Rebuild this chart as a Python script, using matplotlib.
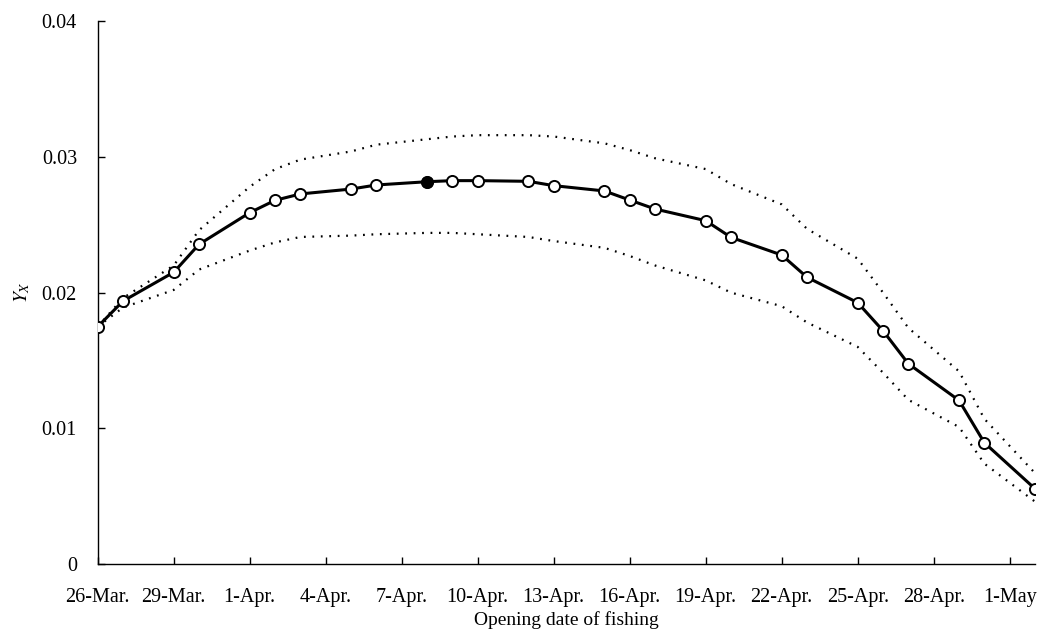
import numpy as np
import matplotlib
matplotlib.use("Agg")
import matplotlib.pyplot as plt

plt.rcParams['font.family'] = ['Liberation Serif', 'DejaVu Serif']
plt.rcParams['mathtext.fontset'] = 'stix'

# days after 26-Mar on which Y_X was computed
dias = [0, 1, 3, 4, 6, 7, 8, 10, 11, 13, 14, 15, 17, 18, 20, 21, 22,
        24, 25, 27, 28, 30, 31, 32, 34, 35, 37]
# estimated Y_X
yx = [0.01749, 0.01938, 0.0215, 0.02356, 0.02589, 0.0268, 0.02727, 0.02763,
      0.02793, 0.02817, 0.02825, 0.02825, 0.0282, 0.02788, 0.02749, 0.02682,
      0.02616, 0.0253, 0.02407, 0.02277, 0.02113, 0.01926, 0.01719, 0.01476,
      0.01206, 0.00894, 0.00555]
# upper / lower limits (dotted)
superior = [0.0175, 0.0196, 0.0220, 0.0246, 0.0278, 0.0291, 0.0298, 0.0304,
            0.0309, 0.0313, 0.0315, 0.0316, 0.0316, 0.0315, 0.0310, 0.0305,
            0.0299, 0.0291, 0.0280, 0.0265, 0.0247, 0.0225, 0.0200, 0.0174,
            0.0142, 0.0107, 0.0067]
inferior = [0.0175, 0.0189, 0.0202, 0.0217, 0.0231, 0.0237, 0.0241, 0.0242,
            0.0243, 0.0244, 0.0244, 0.0243, 0.0241, 0.0238, 0.0233, 0.0227,
            0.0220, 0.0209, 0.0200, 0.0190, 0.0178, 0.0160, 0.0141, 0.0121,
            0.0101, 0.0074, 0.0046]
dia_max = 13  # filled marker (maximum)

ticks_x = [0, 3, 6, 9, 12, 15, 18, 21, 24, 27, 30, 33, 36]
etiquetas_x = ["26-Mar.", "29-Mar.", "1-Apr.", "4-Apr.", "7-Apr.", "10-Apr.",
               "13-Apr.", "16-Apr.", "19-Apr.", "22-Apr.", "25-Apr.",
               "28-Apr.", "1-May"]
ticks_y = [0, 0.01, 0.02, 0.03, 0.04]
etiquetas_y = ["0", "0.01", "0.02", "0.03", "0.04"]

fig = plt.figure(figsize=(10.42, 6.41), dpi=100)
ax = fig.add_axes([0.0938, 0.12, 0.8995, 0.847])

punteado = (0, (0.8, 3))
ax.plot(dias, superior, color='black', lw=1.6, linestyle=punteado)
ax.plot(dias, inferior, color='black', lw=1.6, linestyle=punteado)
ax.plot(dias, yx, color='black', lw=2.2, marker='o', markersize=8,
        markerfacecolor='white', markeredgecolor='black', markeredgewidth=1.4,
        zorder=3)
i = dias.index(dia_max)
ax.plot(dias[i], yx[i], marker='o', markersize=8, color='black', zorder=4)

ax.set_xlim(0, 37)
ax.set_ylim(0, 0.04)
ax.set_xticks(ticks_x)
ax.set_xticklabels(etiquetas_x)
ax.set_yticks(ticks_y)
ax.set_yticklabels(etiquetas_y)
ax.tick_params(direction='in', length=5, width=1, labelsize=14.5)
ax.tick_params(axis='x', pad=17)
ax.tick_params(axis='y', pad=15)
ax.spines['top'].set_visible(False)
ax.spines['right'].set_visible(False)
ax.spines['left'].set_linewidth(1)
ax.spines['bottom'].set_linewidth(1)

ax.set_xlabel("Opening date of fishing", fontsize=14, labelpad=3)
ax.set_ylabel("$Y_X$", fontsize=14, labelpad=7)

fig.savefig("out.png", dpi=100)
